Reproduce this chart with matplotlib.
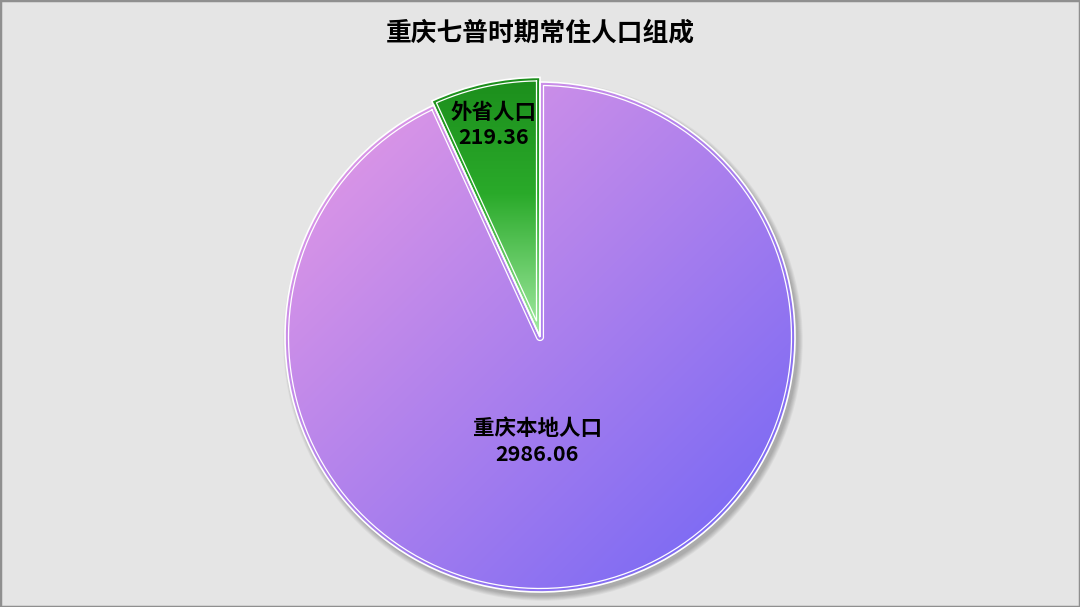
import numpy as np
import matplotlib.pyplot as plt
from matplotlib.patches import Circle, Rectangle

plt.rcParams['font.family'] = ['Noto Sans CJK SC', 'DejaVu Sans']

# 数据
title = '重庆七普时期常住人口组成'
labels = ['重庆本地人口', '外省人口']
values = [2986.06, 219.36]

fig = plt.figure(figsize=(10.8, 6.07), dpi=100)
fig.patch.set_facecolor('#e5e5e5')
ax = fig.add_axes([0, 0, 1, 1])

cx, cy, R = 540, 270, 255


def inner_line(c, r, t1, t2, d):
    # 扇形内侧再描一圈白线（双线边框）
    a1, a2 = np.radians(t1), np.radians(t2)
    span = a2 - a1
    ri = r - d
    dl = np.arcsin(d / ri)
    arc = np.linspace(a1 + dl, a2 - dl, 300)
    pts = np.column_stack([ri * np.cos(arc), ri * np.sin(arc)])
    if span < np.pi:
        bis = (a1 + a2) / 2
        k = d / np.sin(span / 2)
        tip = np.array([[k * np.cos(bis), k * np.sin(bis)]])
    else:
        ang = np.linspace(a2 - np.pi / 2, a1 + np.pi / 2, 40)
        tip = np.column_stack([d * np.cos(ang), d * np.sin(ang)])
    pts = np.vstack([pts, tip, pts[:1]])
    return pts[:, 0] + c[0], pts[:, 1] + c[1]


# 阴影
for i in range(7):
    ax.add_patch(Circle((cx + 3, cy - 4), R + i * 0.8, color='black',
                        alpha=0.04, lw=0, zorder=0))

wedges, _ = ax.pie(values, startangle=90, counterclock=False,
                   center=(cx, cy), radius=R)
ax.set_xlim(0, 1080)
ax.set_ylim(0, 607)
ax.axis('off')

# 外省那块稍微大一点
wedges[1].set_radius(R * 1.018)

N = 400
# 紫色渐变（左上粉 -> 右下蓝紫）
x = np.linspace(0, 1, N)
X, Y = np.meshgrid(x, x)
t = (X + (1 - Y)) / 2
c0 = np.array([234, 156, 228]) / 255
c1 = np.array([110, 100, 246]) / 255
purple = c0 + (c1 - c0) * t[..., None]

# 绿色渐变（上深下浅）
tg = 1 - Y
gs = np.array([0, 0.45, 1.0])
gc = np.array([[28, 142, 28], [42, 170, 42], [165, 236, 165]]) / 255
green = np.stack([np.interp(tg, gs, gc[:, k]) for k in range(3)], axis=-1)

for w, img in zip(wedges, [purple, green]):
    r = w.r
    if img is green:
        ext = [cx - r, cx + r, cy, cy + r]
    else:
        ext = [cx - r, cx + r, cy - r, cy + r]
    im = ax.imshow(img, extent=ext, origin='lower', zorder=1,
                   interpolation='bilinear', aspect='auto')
    im.set_clip_path(w)
    w.set_facecolor('none')
    w.set_edgecolor('white')
    w.set_linewidth(1.2)
    w.set_zorder(3)
    xs, ys = inner_line(w.center, r, w.theta1, w.theta2, 3.5)
    ax.plot(xs, ys, color='white', lw=0.9, zorder=3)

# 标签
ax.text(cx - 3, cy - 0.41 * R, labels[0] + '\n' + '%.2f' % values[0],
        ha='center', va='center', fontsize=15.5, fontweight='bold',
        linespacing=1.25, zorder=4)
w = wedges[1]
bis = np.radians((w.theta1 + w.theta2) / 2)
ax.text(cx + 0.84 * w.r * np.cos(bis), cy + 0.835 * w.r * np.sin(bis),
        labels[1] + '\n' + '%.2f' % values[1],
        ha='center', va='center', fontsize=15.5, fontweight='bold',
        linespacing=1.25, zorder=4)

ax.text(540, 574, title, ha='center', va='center', fontsize=18.5,
        fontweight='bold')

fig.add_artist(Rectangle((0, 0), 1, 1, transform=fig.transFigure, fill=False,
                         edgecolor='#8f8f8f', lw=2.5))

fig.savefig('out.png', dpi=100, facecolor=fig.get_facecolor())
